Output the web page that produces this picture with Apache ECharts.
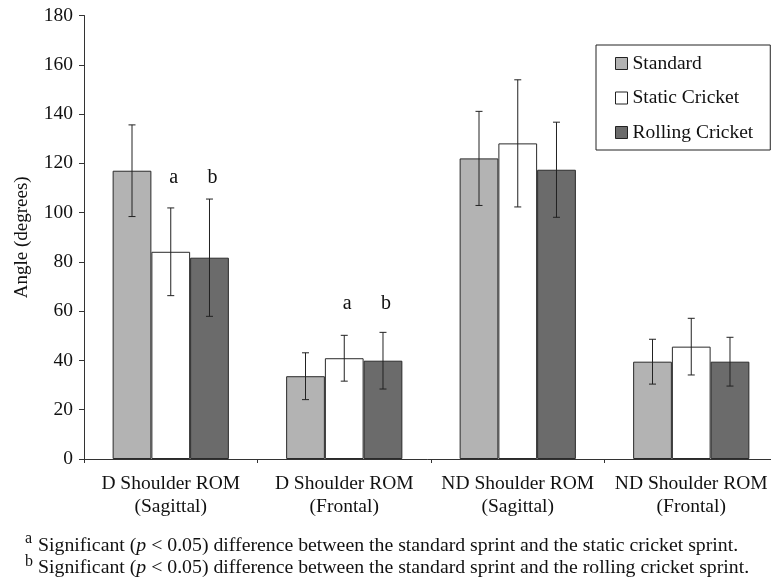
<!DOCTYPE html>
<html>
<head>
<meta charset="utf-8">
<script src="https://cdn.jsdelivr.net/npm/echarts@6/dist/echarts.min.js"></script>
<style>html,body{margin:0;padding:0;background:#fff;}#c{width:771px;height:583px;}</style>
</head>
<body>
<div id="c"></div>
<script>
const categories = ['D Shoulder ROM\n(Sagittal)', 'D Shoulder ROM\n(Frontal)', 'ND Shoulder ROM\n(Sagittal)', 'ND Shoulder ROM\n(Frontal)'];
const seriesNames = ['Standard', 'Static Cricket', 'Rolling Cricket'];
const standardMean = [117, 33.6, 122, 39.5];
const standardSD = [18.6, 9.5, 19.1, 9.1];
const staticMean = [84.1, 40.9, 128.1, 45.6];
const staticSD = [17.8, 9.3, 25.8, 11.5];
const rollingMean = [81.7, 39.9, 117.4, 39.5];
const rollingSD = [23.8, 11.5, 19.3, 9.9];
const staticSig = ['a', 'a', '', ''];
const rollingSig = ['b', 'b', '', ''];
const sigLevel = [114, 63, null, null];
const yTicks = [0, 20, 40, 60, 80, 100, 120, 140, 160, 180];

const FONT = 'Liberation Serif';
const colors = ['#b3b3b3', '#ffffff', '#6b6b6b'];
const CAT_GAP = 0.33;
const means = [standardMean, staticMean, rollingMean];
const sds = [standardSD, staticSD, rollingSD];
const sigs = [null, staticSig, rollingSig];

const series = [];
means.forEach((m, i) => {
  series.push({
    name: seriesNames[i], type: 'bar', data: m,
    barGap: '0%', barCategoryGap: (CAT_GAP * 100) + '%',
    itemStyle: { color: colors[i], borderColor: '#2a2a2a', borderWidth: 1 },
    z: 2
  });
});
means.forEach((m, i) => {
  const off = i - 1;
  series.push({
    type: 'custom', name: seriesNames[i] + ' err', z: 5, silent: true,
    data: m.map((v, k) => [k, v - sds[i][k], v + sds[i][k]]),
    encode: { x: 0, y: [1, 2] },
    renderItem: function (params, api) {
      const k = api.value(0);
      const lo = api.coord([k, api.value(1)]);
      const hi = api.coord([k, api.value(2)]);
      const bw = api.size([1, 0])[0] * (1 - CAT_GAP) / 3;
      const x = lo[0] + off * bw;
      const c = 3.5;
      const st = { stroke: '#222', lineWidth: 1 };
      return { type: 'group', children: [
        { type: 'line', shape: { x1: x, y1: lo[1], x2: x, y2: hi[1] }, style: st },
        { type: 'line', shape: { x1: x - c, y1: lo[1], x2: x + c, y2: lo[1] }, style: st },
        { type: 'line', shape: { x1: x - c, y1: hi[1], x2: x + c, y2: hi[1] }, style: st }
      ]};
    }
  });
});
[1, 2].forEach(i => {
  const off = i - 1;
  series.push({
    type: 'custom', name: seriesNames[i] + ' sig', z: 6, silent: true,
    data: sigLevel.map((v, k) => v == null ? null : [k, v, sigs[i][k]]).filter(d => d),
    encode: { x: 0, y: 1 },
    renderItem: function (params, api) {
      const k = api.value(0);
      const p = api.coord([k, api.value(1)]);
      const bw = api.size([1, 0])[0] * (1 - CAT_GAP) / 3;
      return { type: 'text', style: {
        x: p[0] + off * bw + 3, y: p[1], text: api.value(2),
        font: '20px ' + FONT, fill: '#111', align: 'center', verticalAlign: 'middle'
      }};
    }
  });
});

const chart = echarts.init(document.getElementById('c'), null, { renderer: 'canvas' });
const rich = { n: { font: '19.8px ' + FONT, fill: '#111' }, i: { font: 'italic 19.8px ' + FONT, fill: '#111' } };
chart.setOption({
  animation: false,
  backgroundColor: '#fff',
  textStyle: { fontFamily: FONT },
  grid: { left: 84, top: 15.5, bottom: 124, right: -7, containLabel: false, outerBoundsMode: 'none' },
  legend: {
    data: seriesNames, orient: 'vertical', left: 596, top: 45,
    itemWidth: 12, itemHeight: 12, itemGap: 13.5, icon: 'rect',
    padding: [8, 17, 7, 19],
    borderColor: '#222', borderWidth: 1, backgroundColor: '#fff',
    itemStyle: { borderColor: '#222', borderWidth: 1 },
    textStyle: { fontFamily: FONT, fontSize: 19.5, color: '#111', lineHeight: 21 }
  },
  xAxis: {
    type: 'category', data: categories,
    axisLine: { lineStyle: { color: '#333', width: 1 } },
    axisTick: { show: true, length: 4, lineStyle: { color: '#333' } },
    axisLabel: { fontFamily: FONT, fontSize: 19.5, color: '#111', lineHeight: 23, margin: 13, interval: 0 }
  },
  yAxis: {
    type: 'value', min: yTicks[0], max: yTicks[yTicks.length - 1], interval: yTicks[1] - yTicks[0],
    name: 'Angle (degrees)', nameLocation: 'middle', nameGap: 52,
    nameTextStyle: { fontFamily: FONT, fontSize: 19, color: '#111' },
    axisLine: { show: true, lineStyle: { color: '#333', width: 1 } },
    axisTick: { show: true, length: 5, lineStyle: { color: '#333' } },
    axisLabel: { fontFamily: FONT, fontSize: 19.5, color: '#111', margin: 11 },
    splitLine: { show: false }
  },
  graphic: [
    { type: 'text', left: 25, top: 531, style: { text: 'a', font: '16px ' + FONT, fill: '#111' } },
    { type: 'text', left: 38, top: 536, style: {
      text: '{n|Significant (}{i|p}{n| < 0.05) difference between the standard sprint and the static cricket sprint.}', rich: rich
    } },
    { type: 'text', left: 25, top: 554, style: { text: 'b', font: '16px ' + FONT, fill: '#111' } },
    { type: 'text', left: 38, top: 558, style: {
      text: '{n|Significant (}{i|p}{n| < 0.05) difference between the standard sprint and the rolling cricket sprint.}', rich: rich
    } }
  ],
  series: series
});
</script>
</body>
</html>
